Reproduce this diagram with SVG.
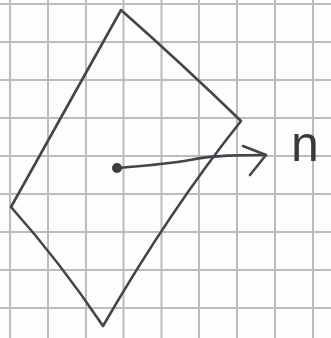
<svg xmlns="http://www.w3.org/2000/svg" width="331" height="338" viewBox="0 0 331 338">
<style>
.grid{stroke:#bcbcbc;stroke-width:2;fill:none}
.ink{stroke:#48424a;stroke-width:2.6;fill:none;stroke-linecap:round;stroke-linejoin:round}
.lbl{font-family:"Liberation Sans",sans-serif;font-size:50px;fill:#3e383e}
</style>
<rect width="331" height="338" fill="#fdfdfd"/>
<g id="grid" class="grid">
<path d="M10 0V338M48 0V338M86 0V338M123.5 0V338M161.5 0V338M199 0V338M237 0V338M275 0V338M313 0V338"/>
<path d="M0 4H331M0 42H331M0 80H331M0 118H331M0 156H331M0 194H331M0 232H331M0 270H331M0 308H331"/>
</g>
<g id="rhombus">
<path class="ink" d="M121 10 Q180 62 241 121 Q170 210 103 326 Q60 262 11 207 Q66 108 121 10Z"/>
</g>
<g id="center">
<circle cx="117" cy="168" r="5" fill="#3e383e"/>
</g>
<g id="connectors">
<path class="ink" d="M117 168 C150 165 170 164 190 160 C215 155 240 155 266 155"/>
<path class="ink" d="M243 146 L266 155 L250 175" stroke-width="3"/>
</g>
<g id="label-n">
<text class="lbl" x="291" y="161">n</text>
</g>
</svg>
